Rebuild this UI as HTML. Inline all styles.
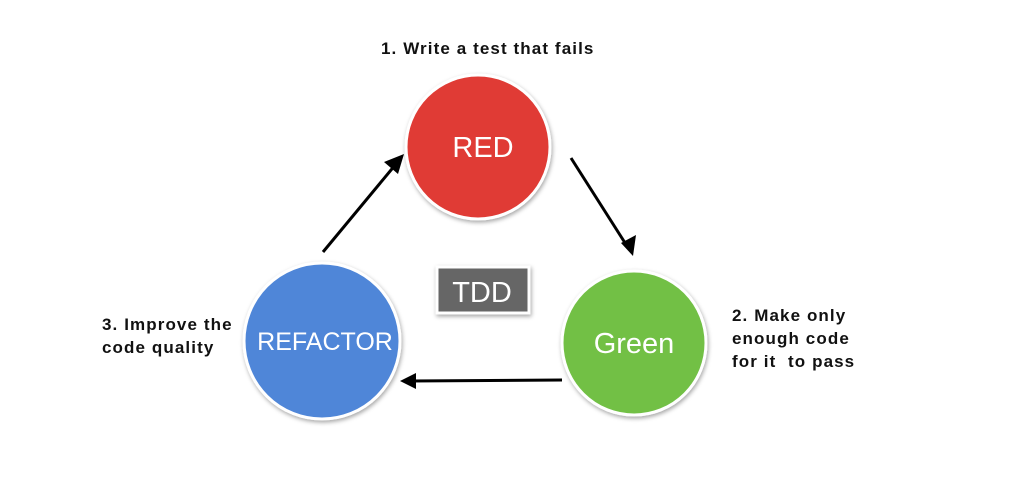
<!DOCTYPE html>
<html><head><style>
body{margin:0;background:#fff;width:1014px;height:487px;overflow:hidden;font-family:"Liberation Sans",Arial,sans-serif}
.t{position:absolute;font-weight:bold;font-size:17px;letter-spacing:1.1px;color:#111;line-height:23px}
</style></head><body>
<svg width="1014" height="487" style="position:absolute;left:0;top:0">
<defs>
<filter id="s" x="-20%" y="-20%" width="140%" height="140%"><feDropShadow dx="1" dy="2" stdDeviation="2" flood-opacity="0.35"/></filter>
</defs>
<circle cx="478" cy="147" r="72" fill="#e03a34" stroke="#fff" stroke-width="3" filter="url(#s)"/>
<circle cx="634" cy="343" r="72" fill="#72c045" stroke="#fff" stroke-width="3" filter="url(#s)"/>
<circle cx="322" cy="341" r="78" fill="#4f86d8" stroke="#fff" stroke-width="3" filter="url(#s)"/>
<rect x="437" y="267" width="92" height="46" fill="#666" stroke="#fff" stroke-width="3" filter="url(#s)"/>
<g stroke="#000" stroke-width="3" fill="none">
<line x1="323" y1="252" x2="396" y2="164"/>
<line x1="571" y1="158" x2="627" y2="246"/>
<line x1="562" y1="380" x2="410" y2="381"/>
</g>
<polygon points="404,154 384,162 398,174" fill="#000"/>
<polygon points="633,256 621,243 636,235" fill="#000"/>
<polygon points="400,381 416,373 416,389" fill="#000"/>
<g fill="#fff" font-family="Liberation Sans,Arial,sans-serif" text-anchor="middle">
<text x="483" y="157" font-size="29">RED</text>
<text x="634" y="353" font-size="29">Green</text>
<text x="325" y="350" font-size="25">REFACTOR</text>
<text x="482" y="302" font-size="29">TDD</text>
</g>
</svg>
<div class="t" style="left:381px;top:37px">1. Write a test that fails</div>
<div class="t" style="left:732px;top:304px">2. Make only<br>enough code<br>for it &nbsp;to pass</div>
<div class="t" style="left:102px;top:313px">3. Improve the<br>code quality</div>
</body></html>
